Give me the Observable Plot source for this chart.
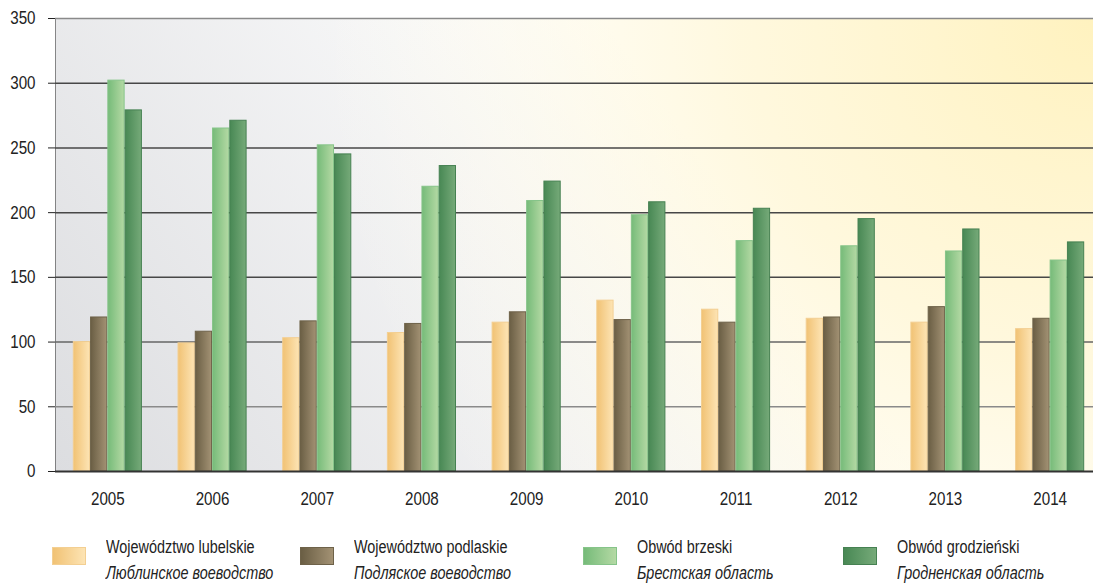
<!DOCTYPE html>
<html>
<head>
<meta charset="utf-8">
<script src="https://cdn.jsdelivr.net/npm/d3@7"></script>
<script src="https://cdn.jsdelivr.net/npm/@observablehq/plot@0.6"></script>
<style>
  html, body { margin: 0; padding: 0; background: #fff; overflow: hidden; }
  #wrap { position: relative; width: 1093px; height: 583px; overflow: hidden;
          font-family: "Liberation Sans", Arial, sans-serif; color: #222; }
  #chart { position: absolute; left: 0; top: 0; }
  .item { position: absolute; top: 536px; }
  .sw { position: absolute; top: 11px; width: 34px; height: 18px; box-sizing: border-box; }
  .t1, .t2 { position: absolute; white-space: nowrap; font-size: 18px; line-height: 20px;
             transform: scaleX(0.8); transform-origin: 0 0; }
  .t1 { top: 1px; }
  .t2 { top: 27px; font-style: italic; }
</style>
</head>
<body>
<div id="wrap"><div id="chart"></div><div id="legend"></div></div>
<script>
// ---- data ----
const years = ["2005","2006","2007","2008","2009","2010","2011","2012","2013","2014"];
const lubelskie   = [100,  99, 103, 107, 115, 132, 125, 118, 115, 110];
const podlaskie   = [119, 108, 116, 114, 123, 117, 115, 119, 127, 118];
const brzeski     = [302, 265, 252, 220, 209, 198, 178, 174, 170, 163];
const grodzienski = [279, 271, 245, 236, 224, 208, 203, 195, 187, 177];
const seriesNamesPl = ["Województwo lubelskie", "Województwo podlaskie", "Obwód brzeski", "Obwód grodzieński"];
const seriesNamesRu = ["Люблинское воеводство", "Подляское воеводство", "Брестская область", "Гродненская область"];
const yTicks = [0, 50, 100, 150, 200, 250, 300, 350];

// ---- styles ----
const gradStops = [
  ["#f1c274", "#fde4b4"],
  ["#6a5e44", "#a39274"],
  ["#76bb79", "#b4d9a4"],
  ["#488854", "#76aa79"]
];
const strokes = ["#f3cf92", "#6e6249", "#86c489", "#468152"];
const gridColor = v => v === 50 ? "#8a8a8a" : v === 100 ? "#666" : v === 350 ? "#8a8a8a" : "#474747";
const legendX = [52, 300, 583, 843];
const TEXT_SCALE = 0.82;

const allSeries = [lubelskie, podlaskie, brzeski, grodzienski];

const W = 1102, H = 520, mL = 55, mR = 0, mT = 18, mB = 49;
const pInner = 0.34, pOuter = 0.17;
const bw = d3.scaleBand().domain(years).range([mL, W - mR]).paddingInner(pInner).paddingOuter(pOuter).bandwidth();
const barW = bw / 4;

const barMarks = allSeries.map((vals, i) =>
  Plot.barY(years.map((y, j) => ({year: y, value: vals[j]})), {
    x: "year", y: "value",
    fill: `url(#bar${i})`, stroke: strokes[i], strokeWidth: 1,
    insetLeft: i * barW + 0.5, insetRight: (3 - i) * barW + 0.5
  })
);

const chart = Plot.plot({
  width: W, height: H,
  marginLeft: mL, marginRight: mR, marginTop: mT, marginBottom: mB,
  style: {fontFamily: '"Liberation Sans", Arial, sans-serif', fontSize: "18.5px", color: "#222", background: "transparent"},
  x: {domain: years, paddingInner: pInner, paddingOuter: pOuter, round: false, label: null, tickSize: 0, tickPadding: 20},
  y: {domain: [0, 350], ticks: yTicks, label: null, tickSize: 7, tickPadding: 13, line: true},
  marks: [
    Plot.frame({fill: "url(#bgBase)", stroke: null}),
    Plot.frame({fill: "url(#bgWarm)", stroke: null}),
    Plot.ruleY(yTicks.filter(d => d > 0), {stroke: gridColor, strokeWidth: 1.5}),
    ...barMarks,
    Plot.ruleY([0], {stroke: "#333", strokeWidth: 2})
  ]
});
chart.style.maxWidth = "none";

const ns = "http://www.w3.org/2000/svg";
const defs = document.createElementNS(ns, "defs");
let defsHtml = `<linearGradient id="bgBase" gradientUnits="userSpaceOnUse" x1="${mL}" y1="${H - mB}" x2="700" y2="${mT}">
  <stop offset="0" stop-color="#dcdde0"/>
  <stop offset="0.9" stop-color="#ffffff"/>
</linearGradient>
<radialGradient id="bgWarm" gradientUnits="userSpaceOnUse" cx="${W - 9}" cy="${mT}" r="780">
  <stop offset="0" stop-color="#fff2bf" stop-opacity="1"/>
  <stop offset="0.45" stop-color="#fff7d8" stop-opacity="0.85"/>
  <stop offset="1" stop-color="#fffcee" stop-opacity="0"/>
</radialGradient>`;
gradStops.forEach((g, i) => {
  defsHtml += `<linearGradient id="bar${i}" x1="0" y1="0" x2="1" y2="0">
    <stop offset="0" stop-color="${g[0]}"/><stop offset="1" stop-color="${g[1]}"/></linearGradient>`;
});
defs.innerHTML = defsHtml;
chart.insertBefore(defs, chart.firstChild);

// condense tick labels horizontally (narrow face look)
chart.querySelectorAll('g[aria-label$="tick label"] text').forEach(t => {
  let tr = t.getAttribute("transform") || "";
  const x = t.getAttribute("x");
  if (x != null) { tr += ` translate(${x},0)`; t.removeAttribute("x"); }
  t.setAttribute("transform", tr + ` scale(${TEXT_SCALE},1)`);
});
document.getElementById("chart").appendChild(chart);

// ---- legend ----
const legend = document.getElementById("legend");
seriesNamesPl.forEach((name, i) => {
  const it = document.createElement("div");
  it.className = "item";
  it.style.left = legendX[i] + "px";
  it.innerHTML = `<div class="sw" style="background:linear-gradient(to right, ${gradStops[i][0]}, ${gradStops[i][1]});border:1px solid ${strokes[i]}"></div>
    <div class="t1" style="left:54px">${name}</div>
    <div class="t2" style="left:54px">${seriesNamesRu[i]}</div>`;
  legend.appendChild(it);
});
</script>
</body>
</html>
